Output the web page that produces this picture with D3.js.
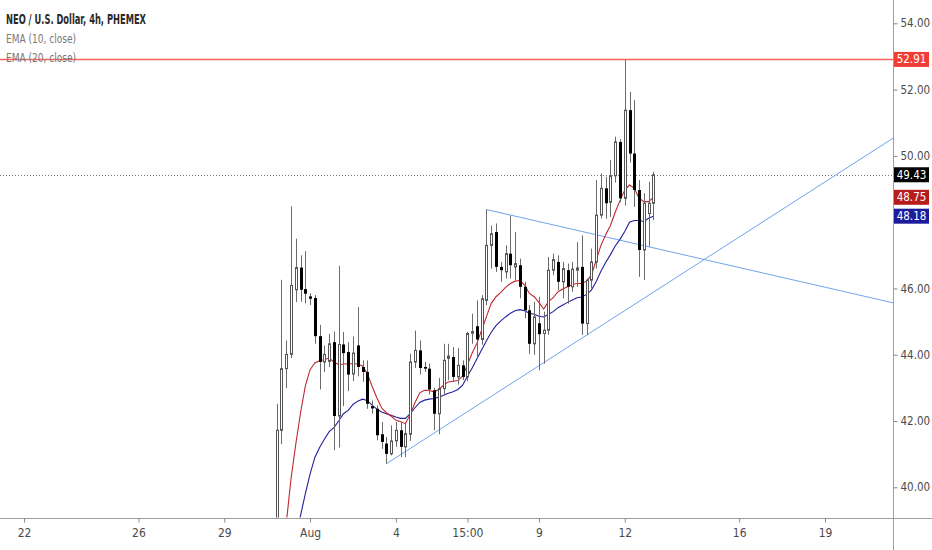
<!DOCTYPE html>
<html>
<head>
<meta charset="utf-8">
<script src="https://cdn.jsdelivr.net/npm/d3@7/dist/d3.min.js"></script>
<style>
  body { margin: 0; background: #fff; }
  text { font-family: "Liberation Sans Narrow", "DejaVu Sans Condensed", "Liberation Sans", sans-serif; }
</style>
</head>
<body>
<div id="chart"></div>
<script>
var width = 932;
var height = 550;
var plotW = 893;
var plotH = 517.5;

// first 4h bar shown, every next bar is 4 hours later
var firstBar = Date.UTC(2021, 6, 30, 20);

var opens  = [38.3,41.72,43.58,44.01,45.96,46.63,45.98,45.76,45.71,44.56,
              43.78,43.8,44.38,42.15,44.31,44.08,43.42,44.28,43.63,43.48,
              42.45,42.37,41.6,41.32,41.01,41.4,41.72,41.22,41.6,43.78,
              44.13,43.63,43.58,42.93,42.22,42.98,43.89,43.93,43.33,43.68,
              43.33,44.65,44.86,44.46,45.64,47.3,47.7,46.65,46.5,47.05,
              46.65,46.7,46.05,45.34,44.33,44.95,44.64,44.74,46.55,46.8,
              46.2,46.55,46.05,46.55,46.65,44.94,46.25,46.8,48.21,49.02,
              48.6,49.4,50.42,48.72,51.38,50.07,48.97,47.16,48.26,48.57];
var highs  = [42.52,46.26,44.43,48.48,47.5,47.0,47.12,45.85,45.8,44.9,
              44.28,44.63,44.7,46.68,44.69,44.38,44.55,45.44,43.83,43.83,
              42.62,42.47,41.97,41.52,41.87,41.97,41.97,41.97,44.03,44.73,
              44.43,43.78,43.73,43.0,43.3,44.33,44.33,44.23,44.2,43.83,
              44.69,45.24,45.64,45.8,48.38,47.9,47.96,46.8,47.3,48.2,
              47.7,46.9,46.2,45.5,45.6,45.75,45.3,46.95,47.05,47.0,
              46.8,46.75,46.8,47.4,47.6,46.3,47.2,49.27,49.47,49.37,
              49.87,50.58,50.5,52.91,51.93,51.68,49.27,48.87,49.22,49.52];
var lows   = [38.1,41.3,43.0,43.9,45.59,45.6,45.55,45.5,44.33,42.95,
              43.48,43.63,41.12,41.2,42.45,42.9,43.2,43.35,43.18,42.37,
              42.22,41.42,41.16,40.71,40.96,41.22,40.91,40.91,41.4,43.6,
              43.4,43.48,42.8,41.72,41.6,42.8,43.23,43.18,43.1,43.23,
              43.2,44.33,43.9,44.3,45.5,46.6,46.5,46.2,46.3,46.3,
              46.25,45.7,45.1,44.03,44.0,43.53,43.73,44.6,46.4,45.95,
              45.7,45.54,45.9,46.05,44.6,44.59,46.0,46.6,48.11,48.1,
              48.16,49.2,48.6,48.5,49.8,48.46,46.35,46.25,47.26,48.06];
var closes = [41.72,43.58,44.01,46.09,46.63,45.96,45.84,45.69,44.56,43.78,
              44.01,44.33,42.15,44.31,44.05,43.4,44.05,43.63,43.48,42.52,
              42.38,41.57,41.37,41.01,41.4,41.72,41.22,41.62,43.78,44.13,
              43.6,43.58,42.95,42.22,42.98,43.83,43.96,43.33,43.68,43.33,
              44.64,44.7,44.46,45.69,47.3,47.65,46.65,46.55,47.05,46.7,
              46.75,46.05,45.34,44.33,45.14,44.62,44.74,46.55,46.87,46.2,
              46.6,46.05,46.58,46.62,44.94,46.25,46.8,48.21,49.02,48.57,
              49.4,50.42,48.72,51.38,50.07,48.97,47.16,48.57,48.57,49.43];

var ema10 = [36.3,37.7,38.9,40.25,41.3,42.25,43.05,43.55,43.75,43.82,
             43.85,43.9,43.78,43.7,43.72,43.73,43.73,43.72,43.66,43.43,
             43.05,42.7,42.4,42.25,42.15,42.02,41.98,41.92,42.2,42.55,
             42.85,42.93,42.92,42.88,42.95,43.08,43.18,43.2,43.22,43.35,
             43.7,44.05,44.35,44.75,45.15,45.55,45.75,45.88,46.03,46.15,
             46.22,46.24,46.1,45.85,45.75,45.58,45.38,45.6,45.72,45.9,
             45.98,46.05,46.12,46.15,46.15,46.22,46.4,46.85,47.3,47.62,
             47.9,48.3,48.65,48.97,49.12,49.03,48.72,48.62,48.62,48.75];
var ema20 = [35.6,36.4,37.2,37.9,38.55,39.15,39.8,40.4,40.9,41.2,
             41.45,41.68,41.8,42.0,42.22,42.32,42.5,42.6,42.66,42.62,
             42.48,42.36,42.27,42.22,42.17,42.12,42.08,42.08,42.22,42.4,
             42.56,42.63,42.66,42.68,42.72,42.78,42.84,42.88,42.95,43.08,
             43.35,43.6,43.88,44.15,44.42,44.68,44.88,45.02,45.14,45.25,
             45.33,45.36,45.33,45.25,45.22,45.16,45.14,45.22,45.3,45.42,
             45.5,45.58,45.65,45.72,45.74,45.82,45.95,46.2,46.52,46.78,
             47.02,47.28,47.48,47.72,48.0,48.05,48.05,48.02,48.12,48.18];

var xTickDates  = [Date.UTC(2021,6,22), Date.UTC(2021,6,26), Date.UTC(2021,6,29), Date.UTC(2021,7,1),
                   Date.UTC(2021,7,4), Date.UTC(2021,7,6,12), Date.UTC(2021,7,9), Date.UTC(2021,7,12),
                   Date.UTC(2021,7,16), Date.UTC(2021,7,19)];
var xTickLabels = ["22","26","29","Aug","4","15:00","9","12","16","19"];
var yTicks = [40,42,44,46,50,52,54];

// drawings: horizontal level and two trend lines (anchor points, extended right)
var levelPrice = 52.91;
var lastPrice = 49.43;
var topLine = [[Date.UTC(2021,7,7,4), 48.38], [Date.UTC(2021,7,10,12), 47.72]];
var bottomLine = [[Date.UTC(2021,7,3,16), 40.71], [Date.UTC(2021,7,10,12), 44.5]];

var bars = opens.map(function(d,i){
  return {t: new Date(firstBar + i*4*3600*1000), o: d, h: highs[i], l: lows[i], c: closes[i]};
});

var x = d3.scaleUtc()
          .domain([new Date(xTickDates[0]), new Date(xTickDates[9])])
          .range([24, 825]);
var y = d3.scaleLinear()
          .domain([40, 54])
          .range([487.3, 23.3]);

var svg = d3.select("#chart").append("svg")
            .attr("width", width)
            .attr("height", height)
            .style("display","block");

svg.append("defs").append("clipPath").attr("id","plotclip")
   .append("rect").attr("x",0).attr("y",0).attr("width",plotW).attr("height",plotH);

var plot = svg.append("g").attr("clip-path","url(#plotclip)");

// last price dotted line
plot.append("line")
    .attr("x1",0).attr("x2",plotW)
    .attr("y1", Math.round(y(lastPrice))+0.5).attr("y2", Math.round(y(lastPrice))+0.5)
    .attr("stroke","#777").attr("stroke-width",1).attr("stroke-dasharray","1,2");

// trend lines, extended to the right edge
function rayPath(pts){
  var x0 = x(new Date(pts[0][0])), y0 = y(pts[0][1]);
  var x1 = x(new Date(pts[1][0])), y1 = y(pts[1][1]);
  var k = (y1 - y0) / (x1 - x0);
  return [[x0, y0], [plotW, y0 + k*(plotW - x0)]];
}
[topLine, bottomLine].forEach(function(ln){
  var p = rayPath(ln);
  plot.append("line")
      .attr("x1",p[0][0]).attr("y1",p[0][1])
      .attr("x2",p[1][0]).attr("y2",p[1][1])
      .attr("stroke","#6ea4ee").attr("stroke-width",1);
});

// EMA lines
var line = d3.line()
             .x(function(d,i){ return x(bars[i].t); })
             .y(function(d){ return y(d); });

plot.append("path").datum(ema20)
    .attr("d", line).attr("fill","none")
    .attr("stroke","#22229a").attr("stroke-width",1.1);
plot.append("path").datum(ema10)
    .attr("d", line).attr("fill","none")
    .attr("stroke","#c1272d").attr("stroke-width",1.1);

// candles
var cx = function(d){ return Math.round(x(d.t)); };

plot.selectAll("line.wick")
    .data(bars)
    .enter().append("line")
      .attr("class","wick")
      .attr("x1", function(d){ return cx(d)+0.5; })
      .attr("x2", function(d){ return cx(d)+0.5; })
      .attr("y1", function(d){ return y(d.h); })
      .attr("y2", function(d){ return y(d.l); })
      .attr("stroke","#6b6b6b")
      .attr("stroke-width",1);

plot.selectAll("rect.body")
    .data(bars)
    .enter().append("rect")
      .attr("class","body")
      .attr("x", function(d){ return d.c >= d.o ? cx(d)-0.5 : cx(d)-1; })
      .attr("width", function(d){ return d.c >= d.o ? 2 : 3; })
      .attr("y", function(d){ return y(Math.max(d.o,d.c)); })
      .attr("height", function(d){ return Math.max(1, Math.abs(y(d.o)-y(d.c))); })
      .attr("fill", function(d){ return d.c >= d.o ? "#fff" : "#000"; })
      .attr("stroke", function(d){ return d.c >= d.o ? "#555" : "none"; })
      .attr("stroke-width",1);

// horizontal level line, drawn over the candles
plot.append("line")
    .attr("x1",0).attr("x2",plotW)
    .attr("y1", y(levelPrice)).attr("y2", y(levelPrice))
    .attr("stroke","#f4645e").attr("stroke-width",1.6);

// axes
svg.append("line")
   .attr("x1", plotW+0.5).attr("x2", plotW+0.5)
   .attr("y1", 0).attr("y2", height)
   .attr("stroke","#9e9e9e");
svg.append("line")
   .attr("x1", 0).attr("x2", width)
   .attr("y1", Math.round(plotH)+0.5).attr("y2", Math.round(plotH)+0.5)
   .attr("stroke","#9e9e9e");

var yAxis = d3.axisRight(y).tickValues(yTicks)
              .tickFormat(d3.format(".2f"))
              .tickSize(4).tickPadding(3);
var gy = svg.append("g")
   .attr("transform","translate(" + (plotW+0.5) + ",0)")
   .call(yAxis);
gy.select(".domain").remove();
gy.selectAll(".tick line").attr("stroke","#888");
gy.selectAll(".tick text").attr("fill","#4a4a4a").attr("font-size",11.5)
  .style("font-family",'"Liberation Sans Narrow","DejaVu Sans Condensed",sans-serif');

var xAxis = d3.axisBottom(x).tickValues(xTickDates.map(function(d){ return new Date(d); }))
              .tickFormat(function(d,i){ return xTickLabels[i]; })
              .tickSize(4).tickPadding(6);
var gx = svg.append("g")
   .attr("transform","translate(0," + (Math.round(plotH)+0.5) + ")")
   .call(xAxis);
gx.select(".domain").remove();
gx.selectAll(".tick line").attr("stroke","#888");
gx.selectAll(".tick text").attr("fill","#4a4a4a").attr("font-size",12)
  .style("font-family",'"Liberation Sans Narrow","DejaVu Sans Condensed",sans-serif');

// price labels on the right scale
var priceTags = [
  {p: levelPrice, bg: "#f23d35"},
  {p: lastPrice,  bg: "#000000"},
  {p: ema10[ema10.length-1], bg: "#b71c1c"},
  {p: ema20[ema20.length-1], bg: "#1c1c9c"}
];
var tags = svg.selectAll("g.tag")
   .data(priceTags)
   .enter().append("g")
     .attr("class","tag")
     .attr("transform", function(d){ return "translate(" + (plotW+1) + "," + y(d.p) + ")"; });
tags.append("rect")
    .attr("x",0).attr("y",-7.5).attr("width",35).attr("height",15)
    .attr("fill", function(d){ return d.bg; });
tags.append("text")
    .attr("x",17.5).attr("y",0)
    .attr("text-anchor","middle").attr("dominant-baseline","central")
    .attr("fill","#fff").attr("font-size",11.5)
    .text(function(d){ return d.p.toFixed(2); });

// header texts
svg.append("text").attr("x",6).attr("y",24)
   .attr("fill","#2a2a2a").attr("font-size",14).attr("font-weight","bold")
   .attr("textLength",140).attr("lengthAdjust","spacingAndGlyphs")
   .text("NEO / U.S. Dollar, 4h, PHEMEX");
svg.append("text").attr("x",6).attr("y",43)
   .attr("fill","#777").attr("font-size",13)
   .attr("textLength",70).attr("lengthAdjust","spacingAndGlyphs")
   .text("EMA (10, close)");
svg.append("text").attr("x",6).attr("y",62)
   .attr("fill","#777").attr("font-size",13)
   .attr("textLength",70).attr("lengthAdjust","spacingAndGlyphs")
   .text("EMA (20, close)");
</script>
</body>
</html>
